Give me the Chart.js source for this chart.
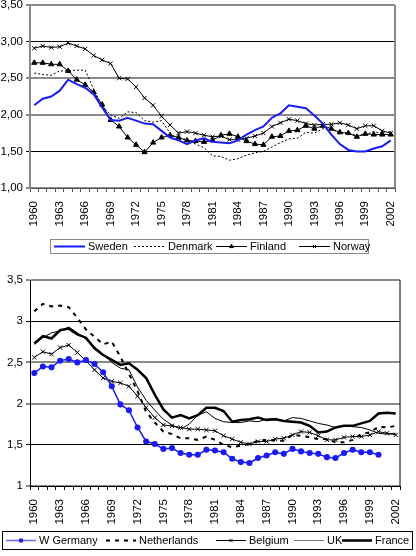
<!DOCTYPE html>
<html>
<head>
<meta charset="utf-8">
<script src="https://cdn.jsdelivr.net/npm/chart.js@4.4.1/dist/chart.umd.min.js"></script>
<style>
  body { margin: 0; background: #fff; }
  #wrap { position: relative; width: 416px; height: 556px; overflow: hidden; }
  #nordic { position: absolute; left: 0; top: 0; }
  #west { position: absolute; left: 0; top: 262px; }
</style>
</head>
<body>
<div id="wrap">
  <canvas id="nordic" width="416" height="262"></canvas>
  <canvas id="west" width="416" height="294"></canvas>
</div>
<script>
// years on the x axis
const years = ["1960","1961","1962","1963","1964","1965","1966","1967","1968","1969",
  "1970","1971","1972","1973","1974","1975","1976","1977","1978","1979",
  "1980","1981","1982","1983","1984","1985","1986","1987","1988","1989",
  "1990","1991","1992","1993","1994","1995","1996","1997","1998","1999",
  "2000","2001","2002"];

// top chart: Nordic countries
const sweden = [2.13,2.22,2.25,2.33,2.48,2.42,2.37,2.28,2.10,1.93,1.92,1.96,1.92,1.88,1.87,1.78,1.69,1.65,1.60,1.65,
  1.68,1.63,1.62,1.61,1.65,1.73,1.79,1.84,1.96,2.02,2.13,2.11,2.09,1.99,1.88,1.73,1.60,1.52,1.50,1.50,1.54,1.57,1.65];
const denmark = [2.57,2.55,2.54,2.60,2.60,2.61,2.61,2.35,2.12,2.00,1.95,2.04,2.03,1.92,1.90,1.92,1.75,1.66,1.67,1.60,
  1.55,1.44,1.43,1.38,1.40,1.45,1.48,1.50,1.56,1.62,1.67,1.68,1.76,1.75,1.81,1.80,1.75,1.75,1.72,1.73,1.77,1.74,1.72];
const finland = [2.71,2.71,2.69,2.69,2.60,2.48,2.41,2.31,2.14,1.93,1.84,1.69,1.59,1.49,1.62,1.69,1.72,1.69,1.65,1.64,
  1.63,1.65,1.72,1.74,1.70,1.64,1.60,1.59,1.70,1.71,1.78,1.79,1.85,1.81,1.85,1.81,1.76,1.75,1.70,1.74,1.73,1.73,1.73];
const norway = [2.91,2.94,2.92,2.93,2.98,2.94,2.90,2.81,2.75,2.70,2.50,2.49,2.38,2.23,2.13,1.98,1.86,1.75,1.77,1.75,
  1.72,1.70,1.71,1.66,1.66,1.68,1.71,1.75,1.84,1.89,1.94,1.92,1.88,1.86,1.87,1.87,1.89,1.86,1.81,1.85,1.85,1.78,1.75];

// bottom chart: western Europe
const wGermany = [2.37,2.45,2.44,2.52,2.54,2.50,2.53,2.48,2.38,2.21,1.99,1.92,1.71,1.54,1.51,1.45,1.46,1.40,1.38,1.38,
  1.44,1.43,1.41,1.33,1.29,1.28,1.34,1.37,1.41,1.39,1.45,1.42,1.40,1.39,1.35,1.34,1.40,1.44,1.41,1.41,1.38,null,null];
const netherlands = [3.12,3.21,3.18,3.19,3.17,3.04,2.90,2.81,2.72,2.75,2.57,2.36,2.15,1.90,1.77,1.66,1.63,1.58,1.58,1.56,
  1.60,1.56,1.50,1.47,1.49,1.51,1.55,1.56,1.55,1.55,1.62,1.61,1.59,1.57,1.57,1.53,1.53,1.56,1.63,1.65,1.72,1.71,1.73];
const belgium = [2.56,2.63,2.60,2.68,2.71,2.62,2.52,2.41,2.31,2.27,2.25,2.21,2.09,1.95,1.83,1.74,1.73,1.71,1.69,1.69,
  1.68,1.67,1.61,1.57,1.53,1.51,1.54,1.54,1.57,1.58,1.62,1.66,1.65,1.61,1.56,1.56,1.59,1.60,1.60,1.62,1.66,1.64,1.62];
const uk = [2.72,2.80,2.86,2.88,2.93,2.86,2.78,2.69,2.60,2.50,2.43,2.41,2.20,2.04,1.92,1.81,1.74,1.69,1.75,1.86,
  1.90,1.82,1.78,1.77,1.77,1.79,1.78,1.81,1.82,1.79,1.83,1.82,1.79,1.76,1.74,1.71,1.73,1.72,1.71,1.68,1.64,1.63,1.64];
const france = [2.73,2.82,2.79,2.89,2.91,2.84,2.80,2.67,2.59,2.53,2.47,2.49,2.41,2.31,2.11,1.93,1.83,1.86,1.82,1.86,
  1.95,1.95,1.91,1.78,1.80,1.81,1.83,1.80,1.81,1.79,1.78,1.77,1.73,1.65,1.66,1.71,1.73,1.73,1.76,1.79,1.88,1.89,1.88];

const FONT = '"Liberation Sans", Arial, sans-serif';

// legend drawn in a box under the chart
const boxLegend = {
  id: "boxLegend",
  afterDraw(chart, args, o) {
    const ctx = chart.ctx;
    ctx.save();
    ctx.strokeStyle = o.border;
    ctx.lineWidth = 1;
    ctx.strokeRect(o.x + 0.5, o.y + 0.5, o.w, o.h);
    ctx.font = "11px " + FONT;
    ctx.textBaseline = "middle";
    const cy = o.y + o.h / 2 + 0.5;
    chart.data.datasets.forEach((ds, i) => {
      const x0 = o.starts[i];
      ctx.strokeStyle = ds.legendColor || ds.borderColor;
      ctx.lineWidth = ds.borderWidth;
      ctx.setLineDash(ds.borderDash || []);
      ctx.beginPath();
      ctx.moveTo(x0, cy);
      ctx.lineTo(x0 + o.len, cy);
      ctx.stroke();
      ctx.setLineDash([]);
      if (ds.pointRadius > 0) {
        ctx.fillStyle = ds.pointBackgroundColor;
        ctx.strokeStyle = ds.pointBorderColor;
        Chart.helpers.drawPoint(ctx, {pointStyle: ds.pointStyle, radius: ds.pointRadius - 0.8, borderWidth: 1, rotation: 0}, x0 + o.len / 2, cy);
      }
      ctx.fillStyle = "#000";
      ctx.fillText(ds.label, x0 + o.len + 3, cy);
    });
    ctx.restore();
  }
};

// right edge of the plot frame
const rightEdge = {
  id: "rightEdge",
  afterDatasetsDraw(chart, args, o) {
    const a = chart.chartArea, ctx = chart.ctx;
    ctx.save();
    ctx.strokeStyle = o.color;
    ctx.lineWidth = o.width;
    ctx.beginPath();
    ctx.moveTo(a.right, a.top);
    ctx.lineTo(a.right, a.bottom);
    ctx.stroke();
    ctx.restore();
  }
};

function baseOptions(cfg) {
  return {
    responsive: false,
    animation: false,
    layout: { padding: cfg.padding },
    plugins: {
      legend: { display: false },
      tooltip: { enabled: false },
      boxLegend: cfg.legend,
      rightEdge: cfg.edge
    },
    scales: {
      x: {
        offset: true,
        border: { color: cfg.axisColor, width: 1 },
        grid: { offset: true, drawOnChartArea: false, drawTicks: true, tickLength: 4, color: cfg.axisColor },
        ticks: {
          autoSkip: false, minRotation: 90, maxRotation: 90, padding: 9,
          color: "#000", font: { family: FONT, size: 11.5 },
          callback: (v, i) => (i % 3 === 0 ? years[i] : "")
        },
        afterFit(s) { s.height = 40; s.paddingLeft = 0; s.paddingRight = 0; }
      },
      y: {
        min: 1, max: 3.5,
        border: { color: cfg.yAxisColor, width: cfg.yAxisWidth },
        grid: {
          drawTicks: true, tickLength: 4,
          color: c => (c.tick && (c.tick.value === 3 || c.tick.value === 1.5) ? "#000" : "#8a8a8a"),
          lineWidth: c => (c.tick && (c.tick.value === 3 || c.tick.value === 1.5) ? 1 : 2)
        },
        ticks: {
          stepSize: 0.5, padding: 3, color: "#000", font: { family: FONT, size: 11.5 },
          callback: cfg.yFormat
        },
        afterFit(s) { s.width = 30; s.paddingTop = 0; s.paddingBottom = 0; }
      }
    }
  };
}

document.addEventListener("DOMContentLoaded", () => {
  new Chart(document.getElementById("nordic"), {
    type: "line",
    data: {
      labels: years,
      datasets: [
        { label: "Sweden", data: sweden, borderColor: "#1a1aff", borderWidth: 2, pointRadius: 0 },
        { label: "Denmark", data: denmark, borderColor: "#000", borderWidth: 1, borderDash: [2, 2], pointRadius: 0 },
        { label: "Finland", data: finland, borderColor: "#000", borderWidth: 1, pointStyle: "triangle", pointRadius: 3,
          pointBackgroundColor: "#000", pointBorderColor: "#000" },
        { label: "Norway", data: norway, borderColor: "#000", borderWidth: 1, pointStyle: "crossRot", pointRadius: 3,
          pointBackgroundColor: "#000", pointBorderColor: "#000" }
      ]
    },
    options: baseOptions({
      padding: { top: 4, right: 21, bottom: 34, left: 0 },
      axisColor: "#555",
      yAxisColor: "#8a8a8a", yAxisWidth: 2,
      yFormat: v => v.toFixed(2).replace(".", ","),
      legend: { x: 50, y: 239, w: 318, h: 14, border: "#8a8a8a", len: 31, starts: [54, 134, 216, 299] },
      edge: { color: "#8a8a8a", width: 2 }
    }),
    plugins: [boxLegend, rightEdge]
  });

  new Chart(document.getElementById("west"), {
    type: "line",
    data: {
      labels: years,
      datasets: [
        { label: "W Germany", data: wGermany, borderColor: "#1a1aff", borderWidth: 1.5, pointStyle: "circle", pointRadius: 2.3,
          pointBackgroundColor: "#1a1aff", pointBorderColor: "#1a1aff", legendColor: "#6a6aff" },
        { label: "Netherlands", data: netherlands, borderColor: "#000", borderWidth: 2, borderDash: [4, 5], pointRadius: 0 },
        { label: "Belgium", data: belgium, borderColor: "#000", borderWidth: 1, pointStyle: "crossRot", pointRadius: 3,
          pointBackgroundColor: "#000", pointBorderColor: "#000" },
        { label: "UK", data: uk, borderColor: "#000", borderWidth: 1, pointRadius: 0, legendColor: "#777" },
        { label: "France", data: france, borderColor: "#000", borderWidth: 2.5, pointRadius: 0 }
      ]
    },
    options: baseOptions({
      padding: { top: 18, right: 16, bottom: 30, left: 0 },
      axisColor: "#000",
      yAxisColor: "#000", yAxisWidth: 1,
      yFormat: v => String(v).replace(".", ","),
      legend: { x: 2, y: 269, w: 410, h: 18, border: "#000", len: 30, starts: [6, 106, 216, 294, 342] },
      edge: { color: "#000", width: 1 }
    }),
    plugins: [boxLegend, rightEdge]
  });
});
</script>
</body>
</html>
